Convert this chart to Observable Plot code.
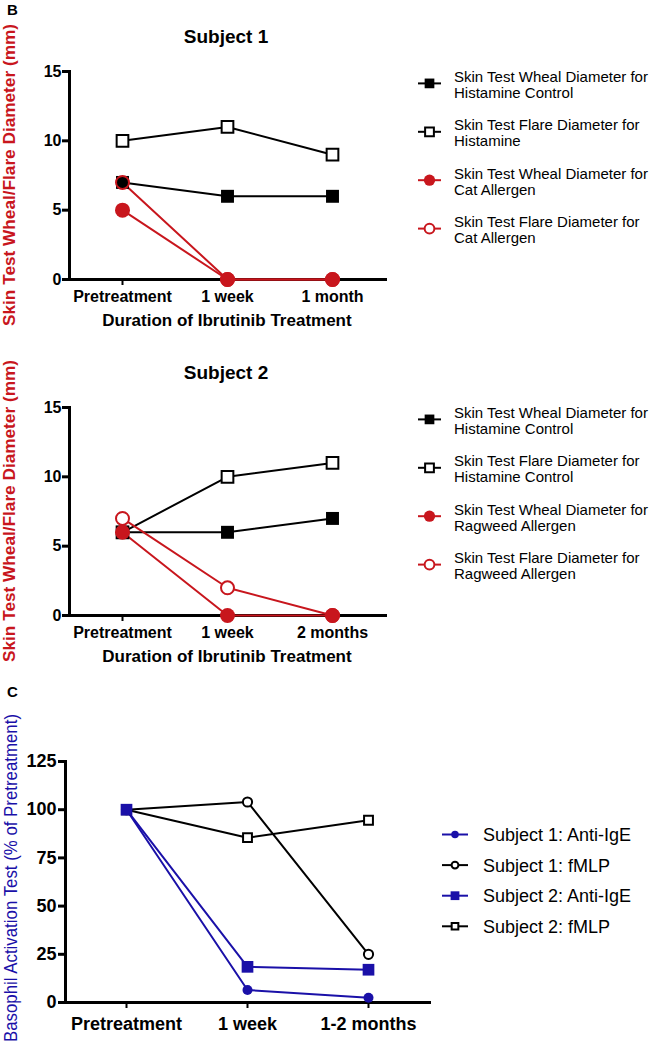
<!DOCTYPE html>
<html><head><meta charset="utf-8">
<script src="https://cdn.jsdelivr.net/npm/d3@7"></script>
<script src="https://cdn.jsdelivr.net/npm/@observablehq/plot@0.6"></script>
<style>
body{margin:0;background:#fff}
#wrap{position:relative;width:649px;height:1050px;font-family:'Liberation Sans',Arial,sans-serif}
#wrap svg{position:absolute}
</style>
</head><body><div id="wrap"></div>
<script>
// ---- data ----
const timesB1 = ["Pretreatment", "1 week", "1 month"];
const timesB2 = ["Pretreatment", "1 week", "2 months"];
const timesC = ["Pretreatment", "1 week", "1-2 months"];

const s1WhealHistamine = [7, 6, 6];
const s1FlareHistamine = [10, 11, 9];
const s1WhealCat = [5, 0, 0];
const s1FlareCat = [7, 0, 0];

const s2WhealHistamine = [6, 6, 7];
const s2FlareHistamine = [6, 10, 11];
const s2WhealRagweed = [6, 0, 0];
const s2FlareRagweed = [7, 2, 0];

const batS1AntiIgE = [100, 6.5, 2.5];
const batS1fMLP = [100, 104, 25];
const batS2AntiIgE = [100, 18.5, 17];
const batS2fMLP = [100, 85.5, 94.5];

const legendB1 = [["Skin Test Wheal Diameter for", "Histamine Control"], ["Skin Test Flare Diameter for", "Histamine"], ["Skin Test Wheal Diameter for", "Cat Allergen"], ["Skin Test Flare Diameter for", "Cat Allergen"]];
const legendB2 = [["Skin Test Wheal Diameter for", "Histamine Control"], ["Skin Test Flare Diameter for", "Histamine Control"], ["Skin Test Wheal Diameter for", "Ragweed Allergen"], ["Skin Test Flare Diameter for", "Ragweed Allergen"]];
const legendC = ["Subject 1: Anti-IgE", "Subject 1: fMLP", "Subject 2: Anti-IgE", "Subject 2: fMLP"];

const RED = "#c8161d", BLUE = "#1a10a8", BLACK = "#000";
const FONT = "'Liberation Sans', Arial, sans-serif";

const wrap = document.getElementById("wrap");

function makePanel(o) {
  const rows = s => s.values.map((v, i) => ({x: o.cats[i], y: v}));
  const svg = Plot.plot({
    width: o.width, height: o.height,
    marginLeft: o.ml, marginRight: o.mr, marginTop: o.mt, marginBottom: o.mb,
    style: {fontFamily: FONT, color: "black", background: "transparent", overflow: "visible"},
    x: {type: "point", domain: o.cats, padding: 0.5},
    y: {domain: o.yDomain},
    marks: [
      Plot.frame({anchor: "left", strokeWidth: 3}),
      Plot.frame({anchor: "bottom", strokeWidth: 3}),
      Plot.axisY(o.yTicks, {tickSize: 7, tickPadding: o.yPad, strokeWidth: 3, fontSize: o.fs, fontWeight: "bold", label: null}),
      Plot.axisX({tickSize: 6, tickPadding: o.xPad, strokeWidth: 2, fontSize: o.fs, fontWeight: "bold", label: null}),
      ...o.series.map(s => Plot.line(rows(s), {x: "x", y: "y", stroke: s.color, strokeWidth: 2})),
      ...o.series.map(s => Plot.dot(rows(s), {x: "x", y: "y", symbol: s.symbol, r: s.r,
        fill: s.filled ? s.color : s.openFill, stroke: s.filled ? "none" : s.color, strokeWidth: 2}))
    ]
  });
  svg.style.left = "0px";
  svg.style.top = o.top + "px";
  wrap.appendChild(svg);
}

const seriesB1 = [
  {values: s1WhealHistamine, color: BLACK, symbol: "square", r: 7.3, filled: true},
  {values: s1FlareHistamine, color: BLACK, symbol: "square", r: 6.6, filled: false, openFill: "white"},
  {values: s1FlareCat, color: RED, symbol: "circle", r: 6.5, filled: false, openFill: "none"},
  {values: s1WhealCat, color: RED, symbol: "circle", r: 7.5, filled: true}
];
const seriesB2 = [
  {values: s2FlareHistamine, color: BLACK, symbol: "square", r: 6.6, filled: false, openFill: "white"},
  {values: s2WhealHistamine, color: BLACK, symbol: "square", r: 7.3, filled: true},
  {values: s2FlareRagweed, color: RED, symbol: "circle", r: 6.5, filled: false, openFill: "white"},
  {values: s2WhealRagweed, color: RED, symbol: "circle", r: 7.5, filled: true}
];
const seriesC = [
  {values: batS1fMLP, color: BLACK, symbol: "circle", r: 4.6, filled: false, openFill: "white"},
  {values: batS2fMLP, color: BLACK, symbol: "square", r: 5, filled: false, openFill: "white"},
  {values: batS1AntiIgE, color: BLUE, symbol: "circle", r: 5, filled: true},
  {values: batS2AntiIgE, color: BLUE, symbol: "square", r: 6.6, filled: true}
];

const bCommon = {width: 400, height: 330, ml: 69, mr: 15, mt: 71, mb: 51, yDomain: [0, 15], yTicks: [0, 5, 10, 15], fs: 16, xPad: 5, yPad: 1};
makePanel({...bCommon, top: 0, cats: timesB1, series: seriesB1});
makePanel({...bCommon, top: 336, cats: timesB2, series: seriesB2});
makePanel({width: 440, height: 350, ml: 65, mr: 11, mt: 61, mb: 48, yDomain: [0, 125], yTicks: [0, 25, 50, 75, 100, 125], fs: 18, xPad: 9, yPad: 2, top: 700, cats: timesC, series: seriesC});

// ---- overlay text & legends ----
const ov = d3.select(wrap).append("svg").attr("width", 649).attr("height", 1050)
  .style("left", "0px").style("top", "0px").style("pointer-events", "none")
  .attr("font-family", FONT);

function txt(x, y, s, opt = {}) {
  const t = ov.append("text").attr("x", x).attr("y", y).text(s)
    .attr("font-size", opt.size || 15).attr("font-weight", opt.weight || "normal")
    .attr("fill", opt.fill || "black").attr("text-anchor", opt.anchor || "start");
  if (opt.len) t.attr("textLength", opt.len).attr("lengthAdjust", "spacingAndGlyphs");
  if (opt.rotate) t.attr("transform", `rotate(-90 ${x} ${y})`);
  return t;
}

txt(7, 15, "B", {size: 15, weight: "bold"});
txt(7, 697, "C", {size: 15, weight: "bold"});

function swatch(cx, cy, half, s, scale) {
  ov.append("line").attr("x1", cx - half).attr("x2", cx + half).attr("y1", cy).attr("y2", cy)
    .attr("stroke", s.color).attr("stroke-width", 2);
  const r = s.r * scale;
  ov.append("path").attr("transform", `translate(${cx},${cy})`)
    .attr("d", d3.symbol(s.symbol === "square" ? d3.symbolSquare : d3.symbolCircle, Math.PI * r * r)())
    .attr("fill", s.filled ? s.color : "white").attr("stroke", s.filled ? "none" : s.color).attr("stroke-width", 2);
}

function panelBText(t, title, legend, legSeries) {
  txt(226, t + 43, title, {size: 19, weight: "bold", anchor: "middle"});
  txt(227, t + 326, "Duration of Ibrutinib Treatment", {size: 17, weight: "bold", anchor: "middle"});
  txt(15, t + 175, "Skin Test Wheal/Flare Diameter (mm)", {size: 17, weight: "bold", anchor: "middle", fill: RED, rotate: true, len: 302});
  legend.forEach((lines, i) => {
    const b = t + 81.7 + 48.4 * i;
    txt(454, b, lines[0], {size: 15});
    txt(454, b + 16, lines[1], {size: 15});
    swatch(429.5, b + 1.7, 11.5, legSeries[i], 0.75);
  });
}
panelBText(0, "Subject 1", legendB1, [seriesB1[0], seriesB1[1], seriesB1[3], seriesB1[2]]);
panelBText(336, "Subject 2", legendB2, [seriesB2[1], seriesB2[0], seriesB2[3], seriesB2[2]]);

txt(17, 878, "Basophil Activation Test (% of Pretreatment)", {size: 17.5, anchor: "middle", fill: BLUE, rotate: true, len: 328});
const legCSeries = [seriesC[2], seriesC[0], seriesC[3], seriesC[1]];
legendC.forEach((s, i) => {
  const b = 841 + 30.6 * i;
  txt(483, b, s, {size: 18});
  swatch(455, b - 6.5, 13, legCSeries[i], 0.75);
});
</script>
</body></html>
